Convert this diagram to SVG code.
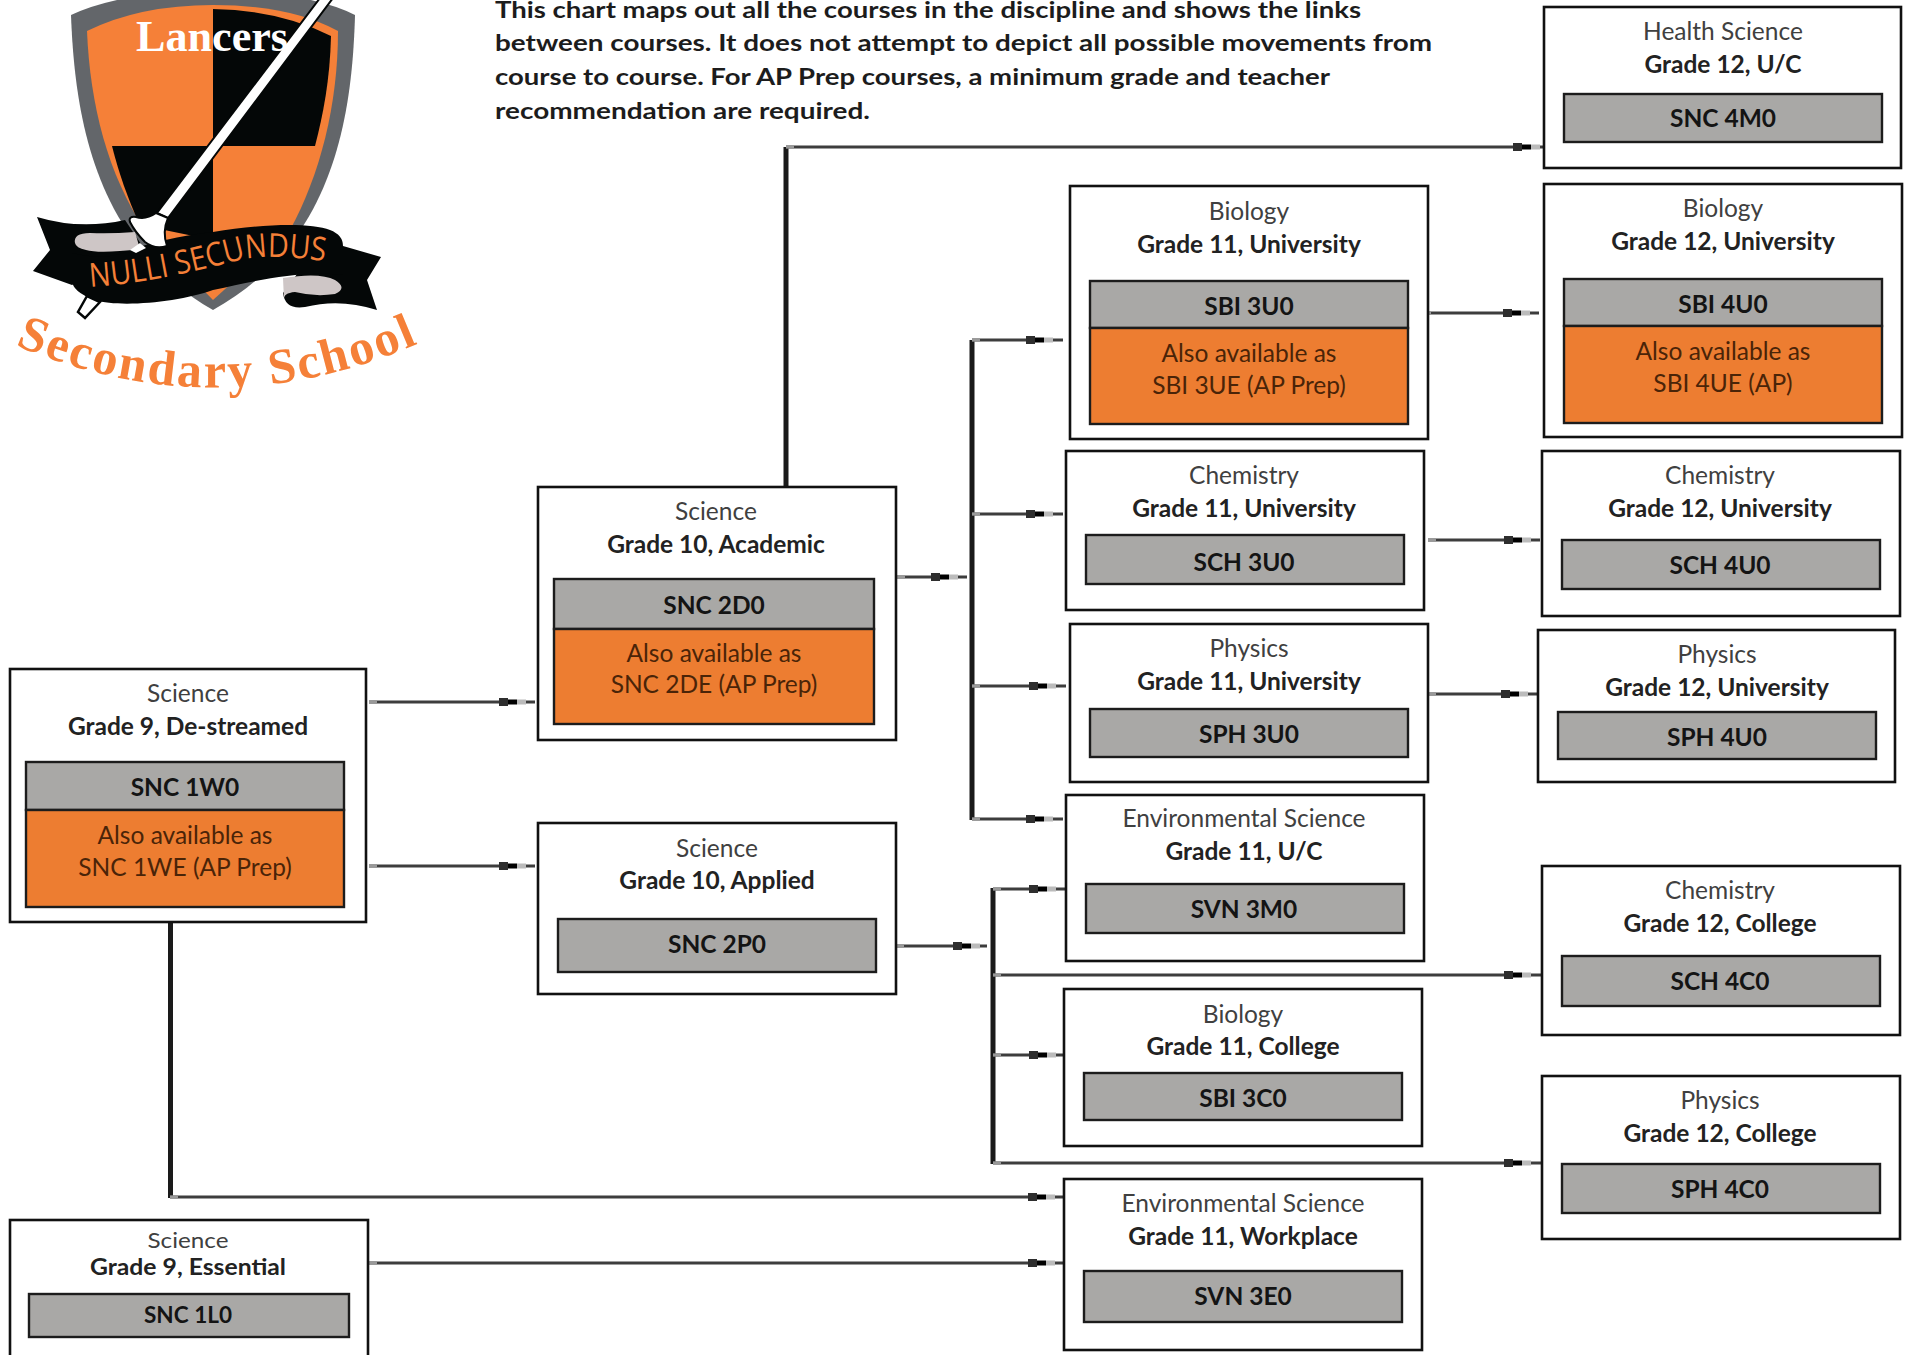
<svg xmlns="http://www.w3.org/2000/svg" xmlns:xlink="http://www.w3.org/1999/xlink" width="1905" height="1355" viewBox="0 0 1905 1355">
<style>
text{font-family:Lato,"Open Sans","Liberation Sans",sans-serif;font-size:24.500px;text-anchor:middle;fill:#262626}
.t{fill:#404040}
.g{font-weight:700;fill:#222;transform:translateY(1px)}
.c{font-weight:700;fill:#141414;transform:translateY(1px)}
.a{fill:#4a2408}
.box{fill:#fff;stroke:#111;stroke-width:2.600}
.gr{fill:#a9a8a6;stroke:#1c1c1c;stroke-width:2.400}
.or{fill:#ed7d31;stroke:#1c1c1c;stroke-width:2.400}
.p{font-weight:700;text-anchor:start;fill:#1c1c1c;font-size:23px}
.l{fill:none;stroke:#3d3d3d;stroke-width:3.200;marker-mid:url(#blob);marker-start:url(#stub)}
.b{fill:none;stroke:#1a1a1a;stroke-width:5}
.s{font-size:22px}
</style>
<defs>
<marker id="blob" markerUnits="userSpaceOnUse" markerWidth="28" markerHeight="10" refX="27" refY="5" orient="auto">
<rect x="0" y="1" width="9" height="8" fill="#2e2e2e"/>
<rect x="9" y="2.500" width="9" height="5" fill="#000"/>
<rect x="18" y="2.500" width="9" height="5" fill="#bbb"/>
</marker>
<marker id="stub" markerUnits="userSpaceOnUse" markerWidth="9" markerHeight="4" refX="0" refY="2" orient="auto">
<rect x="0" y="0.400" width="8" height="3.200" fill="#999"/>
</marker>
</defs>

<g id="logo">
<path d="M71,15 Q120,-8 213,-10 Q310,-8 355,15 C352,125 330,245 213,310 C98,245 75,125 71,15Z" fill="#63666a"/>
<path d="M87,31 Q140,5 213,5 Q290,5 338,31 C338,105 320,175 290,230 L213,300 L145,230 C108,175 90,105 87,31Z" fill="#f58038"/>
<path d="M213,9 Q280,10 331,36 C330,80 323,115 315,146 L213,146Z" fill="#040707"/>
<path d="M112,146 L213,146 L213,240 L140,225 C128,200 118,170 112,146Z" fill="#040707"/>
<path d="M320,-2 L333,-2 L168,218 L157,213Z" fill="#fff" stroke="#040707" stroke-width="2"/>
<path d="M100,302 L85,318 L78,312 L87,296Z" fill="#fff" stroke="#040707" stroke-width="2.500"/>
<path d="M37,217 Q80,230 125,220 L145,250 L72,285 L33,271 L50,250Z" fill="#040707"/>
<path d="M343,246 L381,257 L367,280 L377,310 Q340,298 305,307 Q285,310 283,293 L300,270Z" fill="#040707"/>
<path d="M72,253 Q110,262 135,248 Q180,235 213,232 C260,224 310,222 330,230 Q343,235 343,246 L343,275 C300,270 260,280 213,290 C180,302 120,308 95,300 Q72,292 72,280Z" fill="#040707"/>
<path d="M75,243 Q73,233 90,233 Q110,234 135,232 L140,249 Q100,254 86,250 Q76,248 75,243Z" fill="#cec6c6"/>
<path d="M283,278 Q320,272 335,280 Q348,288 335,294 Q315,297 295,292 Q283,293 284,300Z" fill="#cec6c6"/>
<path d="M130,222 Q128,216 136,217 Q146,220 156,213 L168,218 Q162,232 167,246 Q155,250 145,242 Q135,232 130,222Z" fill="#fff" stroke="#040707" stroke-width="2"/>
<path d="M130,250 L140,243 L146,248 L136,253Z" fill="#fff"/>
<text style="font-family:'Liberation Serif',serif;font-weight:700;font-size:44px;fill:#fff" x="212" y="51" textLength="152" lengthAdjust="spacingAndGlyphs">Lancers</text>
<path id="p1" d="M90,287 C150,283 200,270 240,260 C270,254 300,258 330,262" fill="none"/>
<text style="font-family:'Open Sans',sans-serif;font-size:33px;fill:#f58038;text-anchor:start"><textPath href="#p1" xlink:href="#p1" textLength="238" lengthAdjust="spacingAndGlyphs">NULLI SECUNDUS</textPath></text>
<path id="p2" d="M15,345 Q215,430 415,345" fill="none"/>
<text style="font-family:'Liberation Serif',serif;font-weight:700;font-size:50px;fill:#f58038;text-anchor:start"><textPath href="#p2" xlink:href="#p2" textLength="415" lengthAdjust="spacing">Secondary School</textPath></text>
</g>

<g id="intro">
<text class="p" x="495" y="17.500" textLength="866" lengthAdjust="spacingAndGlyphs">This chart maps out all the courses in the discipline and shows the links</text>
<text class="p" x="495" y="51" textLength="937" lengthAdjust="spacingAndGlyphs">between courses.  It does not attempt to depict all possible movements from</text>
<text class="p" x="495" y="85" textLength="835" lengthAdjust="spacingAndGlyphs">course to course. For AP Prep courses, a minimum grade and teacher</text>
<text class="p" x="495" y="119" textLength="375" lengthAdjust="spacingAndGlyphs">recommendation are required.</text>
</g>

<g id="connectors">
<path class="b" d="M786,147V487"/>
<path class="b" d="M972,340V820"/>
<path class="b" d="M993,888V1164"/>
<path class="b" d="M170.500,920V1198"/>
<path class="l" d="M786,147H1540H1543"/>
<path class="l" d="M369,702H526H535"/>
<path class="l" d="M369,866H526H535"/>
<path class="l" d="M897,577H958H967"/>
<path class="l" d="M972,340H1053H1063"/>
<path class="l" d="M972,514H1053H1063"/>
<path class="l" d="M972,686H1056H1066"/>
<path class="l" d="M972,819H1053H1063"/>
<path class="l" d="M1423,313H1530H1539"/>
<path class="l" d="M1428,540H1531H1540"/>
<path class="l" d="M1428,694H1528H1537"/>
<path class="l" d="M896,946H980H987"/>
<path class="l" d="M993,889H1056H1066"/>
<path class="l" d="M993,975H1531H1541"/>
<path class="l" d="M993,1055H1056H1063"/>
<path class="l" d="M993,1163H1531H1541"/>
<path class="l" d="M170,1197H1055H1063"/>
<path class="l" d="M369,1263H1055H1063"/>
</g>

<g id="n-snc1w0">
<rect class="box" x="10" y="669" width="356" height="253"/>
<rect class="gr" x="26" y="762" width="318" height="48"/><rect class="or" x="26" y="810" width="318" height="97"/>
<text class="t" x="188" y="702">Science</text><text class="g" x="188" y="734">Grade 9, De-streamed</text>
<text class="c" x="185" y="795">SNC 1W0</text><text class="a" x="185" y="844">Also available as</text><text class="a" x="185" y="876">SNC 1WE (AP Prep)</text>
</g>
<g id="n-snc1l0">
<rect class="box" x="10" y="1220" width="358" height="150"/>
<rect class="gr" x="29" y="1294" width="320" height="43"/>
<text class="t s" x="188" y="1248" textLength="81" lengthAdjust="spacingAndGlyphs">Science</text><text class="g s" x="188" y="1274" textLength="196" lengthAdjust="spacingAndGlyphs">Grade 9, Essential</text><text class="c s" x="188" y="1322" textLength="88" lengthAdjust="spacingAndGlyphs">SNC 1L0</text>
</g>
<g id="n-snc2d0">
<rect class="box" x="538" y="487" width="358" height="253"/>
<rect class="gr" x="554" y="579" width="320" height="50"/><rect class="or" x="554" y="629" width="320" height="95"/>
<text class="t" x="716" y="520">Science</text><text class="g" x="716" y="552">Grade 10, Academic</text>
<text class="c" x="714" y="613">SNC 2D0</text><text class="a" x="714" y="662">Also available as</text><text class="a" x="714" y="693">SNC 2DE (AP Prep)</text>
</g>
<g id="n-snc2p0">
<rect class="box" x="538" y="823" width="358" height="171"/>
<rect class="gr" x="558" y="919" width="318" height="53"/>
<text class="t" x="717" y="857">Science</text><text class="g" x="717" y="888">Grade 10, Applied</text><text class="c" x="717" y="952">SNC 2P0</text>
</g>
<g id="n-snc4m0">
<rect class="box" x="1544" y="7" width="357" height="161"/>
<rect class="gr" x="1564" y="94" width="318" height="48"/>
<text class="t" x="1723" y="40">Health Science</text><text class="g" x="1723" y="72">Grade 12, U/C</text><text class="c" x="1723" y="126">SNC 4M0</text>
</g>
<g id="n-sbi3u0">
<rect class="box" x="1070" y="186" width="358" height="253"/>
<rect class="gr" x="1090" y="281" width="318" height="47"/><rect class="or" x="1090" y="328" width="318" height="96"/>
<text class="t" x="1249" y="220">Biology</text><text class="g" x="1249" y="252">Grade 11, University</text>
<text class="c" x="1249" y="314">SBI 3U0</text><text class="a" x="1249" y="362">Also available as</text><text class="a" x="1249" y="394">SBI 3UE (AP Prep)</text>
</g>
<g id="n-sbi4u0">
<rect class="box" x="1544" y="184" width="358" height="253"/>
<rect class="gr" x="1564" y="279" width="318" height="47"/><rect class="or" x="1564" y="326" width="318" height="97"/>
<text class="t" x="1723" y="217">Biology</text><text class="g" x="1723" y="249">Grade 12, University</text>
<text class="c" x="1723" y="312">SBI 4U0</text><text class="a" x="1723" y="360">Also available as</text><text class="a" x="1723" y="392">SBI 4UE (AP)</text>
</g>
<g id="n-sch3u0">
<rect class="box" x="1066" y="451" width="358" height="159"/>
<rect class="gr" x="1086" y="535" width="318" height="49"/>
<text class="t" x="1244" y="484">Chemistry</text><text class="g" x="1244" y="516">Grade 11, University</text><text class="c" x="1244" y="570">SCH 3U0</text>
</g>
<g id="n-sch4u0">
<rect class="box" x="1542" y="451" width="358" height="165"/>
<rect class="gr" x="1562" y="540" width="318" height="49"/>
<text class="t" x="1720" y="484">Chemistry</text><text class="g" x="1720" y="516">Grade 12, University</text><text class="c" x="1720" y="573">SCH 4U0</text>
</g>
<g id="n-sph3u0">
<rect class="box" x="1070" y="624" width="358" height="158"/>
<rect class="gr" x="1090" y="709" width="318" height="48"/>
<text class="t" x="1249" y="657">Physics</text><text class="g" x="1249" y="689">Grade 11, University</text><text class="c" x="1249" y="742">SPH 3U0</text>
</g>
<g id="n-sph4u0">
<rect class="box" x="1538" y="630" width="357" height="152"/>
<rect class="gr" x="1558" y="712" width="318" height="47"/>
<text class="t" x="1717" y="663">Physics</text><text class="g" x="1717" y="695">Grade 12, University</text><text class="c" x="1717" y="745">SPH 4U0</text>
</g>
<g id="n-svn3m0">
<rect class="box" x="1066" y="795" width="358" height="166"/>
<rect class="gr" x="1086" y="884" width="318" height="49"/>
<text class="t" x="1244" y="827">Environmental Science</text><text class="g" x="1244" y="859">Grade 11, U/C</text><text class="c" x="1244" y="917">SVN 3M0</text>
</g>
<g id="n-sbi3c0">
<rect class="box" x="1064" y="989" width="358" height="157"/>
<rect class="gr" x="1084" y="1073" width="318" height="47"/>
<text class="t" x="1243" y="1023">Biology</text><text class="g" x="1243" y="1054">Grade 11, College</text><text class="c" x="1243" y="1106">SBI 3C0</text>
</g>
<g id="n-sch4c0">
<rect class="box" x="1542" y="866" width="358" height="169"/>
<rect class="gr" x="1562" y="956" width="318" height="50"/>
<text class="t" x="1720" y="899">Chemistry</text><text class="g" x="1720" y="931">Grade 12, College</text><text class="c" x="1720" y="989">SCH 4C0</text>
</g>
<g id="n-sph4c0">
<rect class="box" x="1542" y="1076" width="358" height="163"/>
<rect class="gr" x="1562" y="1164" width="318" height="49"/>
<text class="t" x="1720" y="1109">Physics</text><text class="g" x="1720" y="1141">Grade 12, College</text><text class="c" x="1720" y="1197">SPH 4C0</text>
</g>
<g id="n-svn3e0">
<rect class="box" x="1064" y="1179" width="358" height="171"/>
<rect class="gr" x="1084" y="1271" width="318" height="51"/>
<text class="t" x="1243" y="1212">Environmental Science</text><text class="g" x="1243" y="1244">Grade 11, Workplace</text><text class="c" x="1243" y="1304">SVN 3E0</text>
</g>
</svg>
